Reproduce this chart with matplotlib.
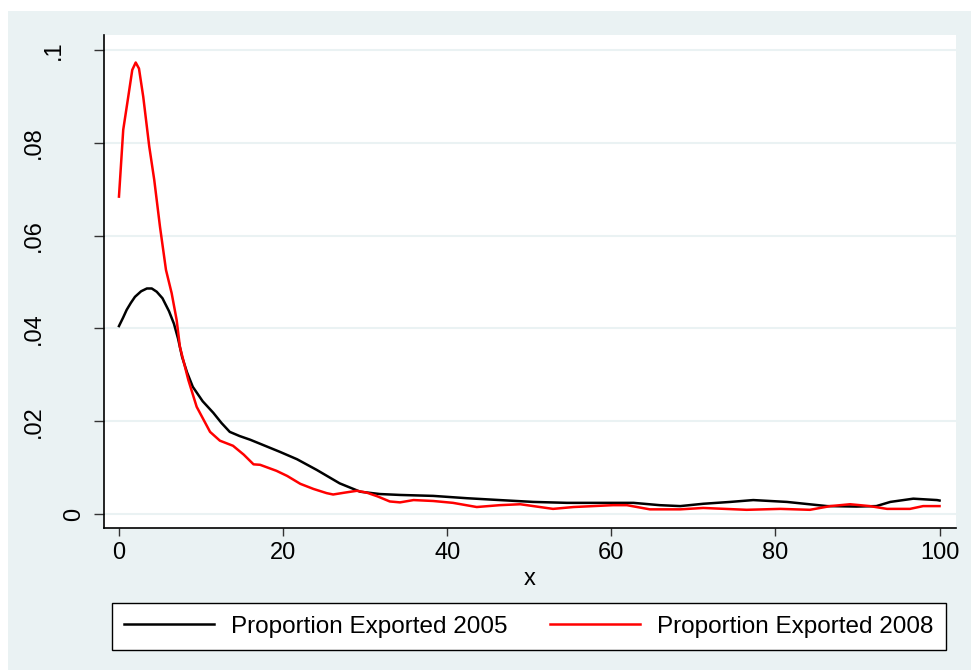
import matplotlib
matplotlib.use("Agg")
import matplotlib.pyplot as plt
from matplotlib.patches import Rectangle

# Proportion exported, 2005 series
x_2005 = [0, 0.5, 0.94, 1.45, 1.95, 2.7, 3.4, 4.0, 4.6, 5.3, 6.1, 6.7, 7.2, 7.7,
          8.3, 9.0, 10.2, 11.5, 12.5, 13.5, 14.7, 16.0, 17.8, 19.6, 21.7, 24.1,
          26.9, 29.4, 31.8, 34.3, 38.3, 42.4, 46.4, 50.5, 54.6, 58.6, 62.7, 65.9,
          68.4, 71.2, 74.5, 77.3, 81.4, 86.3, 89.9, 92.3, 94.0, 96.8, 99.7, 100]
y_2005 = [0.0405, 0.0423, 0.0440, 0.0455, 0.0468, 0.0480, 0.0486, 0.0486, 0.0479,
          0.0465, 0.0437, 0.0410, 0.0378, 0.0338, 0.0305, 0.0274, 0.0243, 0.0218,
          0.0196, 0.0177, 0.0168, 0.0160, 0.0147, 0.0134, 0.0118, 0.0095, 0.0066,
          0.0048, 0.0043, 0.0041, 0.0039, 0.0034, 0.0030, 0.0026, 0.0024, 0.0024,
          0.0024, 0.0019, 0.0017, 0.0022, 0.0026, 0.0030, 0.0026, 0.0017, 0.0016,
          0.0017, 0.0026, 0.0033, 0.0030, 0.0029]

# Proportion exported, 2008 series
x_2008 = [0, 0.52, 1.13, 1.62, 2.04, 2.44, 2.96, 3.69, 4.3, 5.0, 5.73, 6.42, 7.03,
          7.43, 8.45, 9.47, 11.1, 12.3, 13.9, 15.2, 16.4, 17.2, 19.2, 20.5, 22.1,
          23.7, 25.3, 26.1, 27.5, 29.0, 30.2, 31.5, 33.0, 34.25, 35.9, 38.3, 40.7,
          43.6, 46.4, 48.9, 52.9, 55.4, 60.2, 61.9, 64.7, 68.4, 71.2, 76.5, 80.6,
          84.2, 86.7, 89.1, 91.5, 93.6, 96.4, 98.0, 100]
y_2008 = [0.0684, 0.0828, 0.0899, 0.0957, 0.0973, 0.0960, 0.0899, 0.0792, 0.0720,
          0.0619, 0.0526, 0.0476, 0.0418, 0.0360, 0.0289, 0.0231, 0.0177, 0.0158,
          0.0147, 0.0128, 0.0107, 0.0106, 0.0093, 0.0082, 0.0065, 0.0054, 0.0045,
          0.0042, 0.0046, 0.0050, 0.0046, 0.0038, 0.0027, 0.0025, 0.0030, 0.0028,
          0.0024, 0.0015, 0.0019, 0.0021, 0.0011, 0.0015, 0.0019, 0.0019, 0.0010,
          0.0010, 0.0013, 0.0009, 0.0011, 0.0009, 0.0017, 0.0021, 0.0017, 0.0011,
          0.0011, 0.0017, 0.0017]

series_labels = ["Proportion Exported 2005", "Proportion Exported 2008"]
x_ticks = [0, 20, 40, 60, 80, 100]
x_tick_labels = ["0", "20", "40", "60", "80", "100"]
y_ticks = [0, 0.02, 0.04, 0.06, 0.08, 0.1]
y_tick_labels = ["0", ".02", ".04", ".06", ".08", ".1"]
x_title = "x"

BG = "#EAF2F3"
FONT = ["Liberation Sans", "DejaVu Sans"]
FS = 17
FS_LEG = 17.5

plt.rcParams["font.family"] = FONT

W, H = 971, 670
fig = plt.figure(figsize=(W / 100, H / 100), dpi=100, facecolor="white")
fig.patches.append(Rectangle((8 / W, 0), 1 - 8 / W, (H - 11) / H,
                             transform=fig.transFigure, facecolor=BG,
                             edgecolor="none", zorder=-10))

left, right, top, bottom = 103.7, 955.7, 35, 528
ax = fig.add_axes([left / W, (H - bottom) / H, (right - left) / W, (bottom - top) / H])
ax.set_facecolor("white")

ax.plot(x_2005, y_2005, color="black", lw=1.8, label=series_labels[0], zorder=3)
ax.plot(x_2008, y_2008, color="#FF0000", lw=1.8, label=series_labels[1], zorder=3)

ax.set_xlim(-1.86, 101.97)
ax.set_ylim(-0.00302, 0.10323)

ax.set_xticks(x_ticks)
ax.set_xticklabels(x_tick_labels, fontsize=FS)
ax.set_yticks(y_ticks)
ax.set_yticklabels([])
ax.tick_params(axis="x", length=6, width=1, color="#333333", pad=4)
ax.tick_params(axis="y", length=7.4, width=1, color="#333333")

# rotated y labels, each set back from the axis by its character count
for val, lab in zip(y_ticks, y_tick_labels):
    off = (94 - 20 * len(lab)) - left
    ax.annotate(lab, xy=(0, val), xycoords=("axes fraction", "data"),
                xytext=(off, 0), textcoords="offset pixels",
                rotation=90, ha="center", va="center", fontsize=FS)

ax.yaxis.grid(True, color=BG, lw=1.5, zorder=1)
ax.set_axisbelow(True)

for s in ("top", "right"):
    ax.spines[s].set_visible(False)
for s in ("left", "bottom"):
    ax.spines[s].set_color("black")
    ax.spines[s].set_linewidth(1.2)

ax.set_xlabel(x_title, fontsize=FS)
ax.xaxis.set_label_coords(0.5, (bottom - 585) / (bottom - top))
ax.xaxis.label.set_va("baseline")

leg = fig.legend(loc="upper left",
                 bbox_to_anchor=(111.7 / W, (H - 647) / H, (946 - 111.7) / W, (647 - 603) / H),
                 mode="expand", ncol=2, fontsize=FS_LEG, frameon=True, fancybox=False,
                 edgecolor="black", framealpha=1, borderaxespad=0,
                 handlelength=3.7, handletextpad=0.7, borderpad=0.52)
leg.get_frame().set_linewidth(1.0)

fig.savefig("out.png", dpi=100, facecolor=fig.get_facecolor())
